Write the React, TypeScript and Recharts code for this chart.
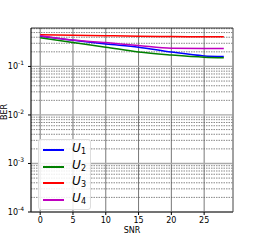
import React from 'react';
import {
  LineChart,
  Line,
  XAxis,
  YAxis,
  CartesianGrid,
  ReferenceLine,
  Label
} from 'recharts';

// SNR points
const snr = [0, 5, 10, 15, 20, 25, 28];

// BER per user
const u1 = [0.42, 0.345, 0.29, 0.25, 0.198, 0.165, 0.16];
const u2 = [0.39, 0.31, 0.25, 0.198, 0.172, 0.155, 0.151];
const u3 = [0.45, 0.44, 0.43, 0.42, 0.415, 0.41, 0.41];
const u4 = [0.43, 0.35, 0.31, 0.27, 0.237, 0.235, 0.235];

const xTicks = [0, 5, 10, 15, 20, 25];
const yTicks = [1e-4, 1e-3, 1e-2, 1e-1];
const minorTicks = [2, 3, 4, 5, 6, 7, 8, 9].flatMap(m => [1e-4, 1e-3, 1e-2, 1e-1].map(d => m * d)).filter(v => v < 0.62);

const series = [
  { key: 'u1', sub: '1', color: '#0000ff' },
  { key: 'u2', sub: '2', color: '#008000' },
  { key: 'u3', sub: '3', color: '#ff0000' },
  { key: 'u4', sub: '4', color: '#bf00bf' }
];

const data = snr.map((s, i) => ({ snr: s, u1: u1[i], u2: u2[i], u3: u3[i], u4: u4[i] }));

const YTick = (props: any) => {
  const { x, y, payload } = props;
  const exp = Math.round(Math.log10(payload.value));
  return (
    <text x={x - 2} y={y + 3} textAnchor="end" fontSize={8} fill="#000">
      10<tspan dy={-4} fontSize={6}>{exp}</tspan>
    </text>
  );
};

export default function App() {
  return (
    <div style={{ position: 'absolute', left: 0, top: 0, width: 260, height: 240, background: '#fff', fontFamily: 'DejaVu Sans' }}>
      <LineChart width={260} height={240} data={data} margin={{ top: 28, right: 27, bottom: 0, left: 0 }}>
        <CartesianGrid stroke="#555" strokeWidth={0.8} horizontal={false} />
        {minorTicks.map(v => (
          <ReferenceLine key={v} y={v} stroke="#555" strokeWidth={0.7} strokeDasharray="1.5 1" />
        ))}
        {yTicks.map(v => (
          <ReferenceLine key={'M' + v} y={v} stroke="#aaa" strokeWidth={1.3} />
        ))}
        <XAxis
          dataKey="snr"
          type="number"
          domain={[-1.4, 29.4]}
          ticks={xTicks}
          tick={{ fontSize: 8, fill: '#000' }}
          tickLine={{ stroke: '#000' }}
          tickSize={3}
          axisLine={false}
          height={28}
          allowDataOverflow
        >
          <Label value="SNR" position="insideBottom" offset={7} fontSize={8} fill="#000" />
        </XAxis>
        <YAxis
          scale="log"
          domain={[1e-4, 0.62]}
          ticks={yTicks}
          tick={<YTick />}
          tickLine={{ stroke: '#000' }}
          tickSize={3}
          axisLine={false}
          width={31}
          allowDataOverflow
        >
          <Label value="BER" angle={-90} position="insideLeft" offset={4} fontSize={8} fill="#000" />
        </YAxis>
        <ReferenceLine x={-1.4} stroke="#000" strokeWidth={0.8} />
        <ReferenceLine x={29.4} stroke="#888" strokeWidth={1} />
        <ReferenceLine y={1e-4} stroke="#000" strokeWidth={0.8} />
        <ReferenceLine y={0.62} stroke="#000" strokeWidth={0.8} />
        {series.map(s => (
          <Line
            key={s.key}
            type="monotone"
            dataKey={s.key}
            stroke={s.color}
            strokeWidth={1.5}
            dot={false}
            isAnimationActive={false}
          />
        ))}
      </LineChart>
      <div style={{ position: 'absolute', left: 38, top: 139, width: 53, height: 71, boxSizing: 'border-box', border: '1px solid #ddd', borderRadius: 3, background: 'rgba(255,255,255,0.85)', padding: '2px 4px' }}>
        {series.map(s => (
          <div key={s.key} style={{ display: 'flex', alignItems: 'center', height: 16.5 }}>
            <div style={{ width: 23, height: 2, background: s.color, marginRight: 8 }} />
            <span style={{ fontFamily: 'DejaVu Sans', fontStyle: 'italic', fontSize: 12, lineHeight: '12px' }}>
              U<sub style={{ fontSize: 8, fontStyle: 'normal', verticalAlign: -2 }}>{s.sub}</sub>
            </span>
          </div>
        ))}
      </div>
    </div>
  );
}
